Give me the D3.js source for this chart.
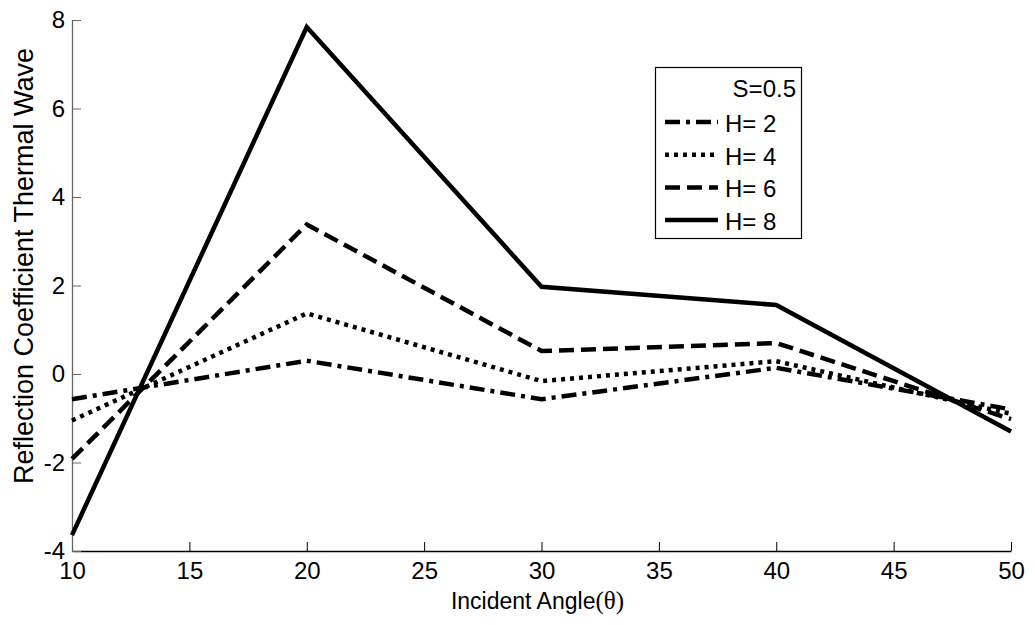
<!doctype html>
<html lang="en">
<head>
  <meta charset="utf-8">
  <title>Reflection Coefficient Thermal Wave</title>
  <script src="https://cdn.jsdelivr.net/npm/d3@7/dist/d3.min.js"></script>
  <style>
    body { margin: 0; background: #fff; }
    text { font-family: "Liberation Sans", Arial, sans-serif; fill: #000; }
  </style>
</head>
<body>
<script>
  // data
  const angles = [10, 20, 30, 40, 50]
  const h2 = [-0.57, 0.30, -0.57, 0.14, -0.80]
  const h4 = [-1.05, 1.37, -0.16, 0.29, -0.90]
  const h6 = [-1.92, 3.38, 0.52, 0.70, -1.02]
  const h8 = [-3.64, 7.84, 1.97, 1.56, -1.30]
  const xTicks = [10, 15, 20, 25, 30, 35, 40, 45, 50]
  const yTicks = [-4, -2, 0, 2, 4, 6, 8]
  const legendTitle = "S=0.5"

  const series = [
    { name: "H= 2", values: h2, dash: "15,6,4,6" },
    { name: "H= 4", values: h4, dash: "4,5" },
    { name: "H= 6", values: h6, dash: "15,7" },
    { name: "H= 8", values: h8, dash: null }
  ]

  const W = 1035, H = 625
  const m = { left: 72, right: 1011, top: 20, bottom: 551 }

  const svg = d3.select("body").append("svg")
    .attr("width", W).attr("height", H)

  const x = d3.scaleLinear().domain([10, 50]).range([m.left, m.right])
  const y = d3.scaleLinear().domain([-4, 8]).range([m.bottom, m.top])

  // axes, matlab style: ticks inside, no top/right box
  const xAxis = svg.append("g")
    .attr("transform", `translate(0,${m.bottom})`)
    .call(d3.axisBottom(x).tickValues(xTicks).tickFormat(d => String(d))
      .tickSize(-9).tickSizeOuter(0).tickPadding(11))
  xAxis.select(".domain").attr("stroke", "#000").attr("stroke-width", 1.3)
  xAxis.selectAll(".tick line").attr("stroke", "#000")
  xAxis.selectAll("text").attr("font-size", 24).attr("dy", "0.71em")

  const yAxis = svg.append("g")
    .attr("transform", `translate(${m.left},0)`)
    .call(d3.axisLeft(y).tickValues(yTicks).tickFormat(d => String(d))
      .tickSize(-9).tickSizeOuter(0).tickPadding(7))
  yAxis.select(".domain").attr("stroke", "#666").attr("stroke-width", 1.3)
  yAxis.selectAll(".tick line").attr("stroke", "#666")
  yAxis.selectAll("text").attr("font-size", 24)

  // axis titles
  const xl = svg.append("text")
    .attr("x", (m.left + m.right) / 2 - 4).attr("y", 609)
    .attr("text-anchor", "middle").attr("font-size", 23)
  xl.append("tspan").text("Incident Angle")
  xl.append("tspan").text("(θ)")
    .style("font-family", "'Liberation Serif', 'Times New Roman', serif").attr("font-size", 25)

  svg.append("text")
    .attr("transform", `translate(33,266) rotate(-90)`)
    .attr("text-anchor", "middle").attr("font-size", 27)
    .text("Reflection Coefficient Thermal Wave")

  // lines
  const line = d3.line()
    .x((d, i) => x(angles[i]))
    .y(d => y(d))

  svg.append("g").selectAll("path")
    .data(series)
    .join("path")
    .attr("d", d => line(d.values))
    .attr("fill", "none")
    .attr("stroke", "#000")
    .attr("stroke-width", 4.5)
    .attr("stroke-linejoin", "miter")
    .attr("stroke-dasharray", d => d.dash)

  // legend
  const lg = svg.append("g")
  lg.append("rect")
    .attr("x", 655.5).attr("y", 67.5).attr("width", 146).attr("height", 171)
    .attr("fill", "#fff").attr("stroke", "#000").attr("stroke-width", 1.2)
  lg.append("text")
    .attr("x", 796).attr("y", 97).attr("text-anchor", "end").attr("font-size", 24)
    .text(legendTitle)
  const rows = lg.selectAll("g.row").data(series).join("g")
    .attr("class", "row")
    .attr("transform", (d, i) => `translate(0,${122 + i * 32.7})`)
  rows.append("line")
    .attr("x1", 665).attr("x2", 718).attr("y1", 0).attr("y2", 0)
    .attr("stroke", "#000").attr("stroke-width", 4.5)
    .attr("stroke-dasharray", d => d.dash)
  rows.append("text")
    .attr("x", 725).attr("y", 10).attr("font-size", 24)
    .text(d => d.name)
</script>
</body>
</html>
